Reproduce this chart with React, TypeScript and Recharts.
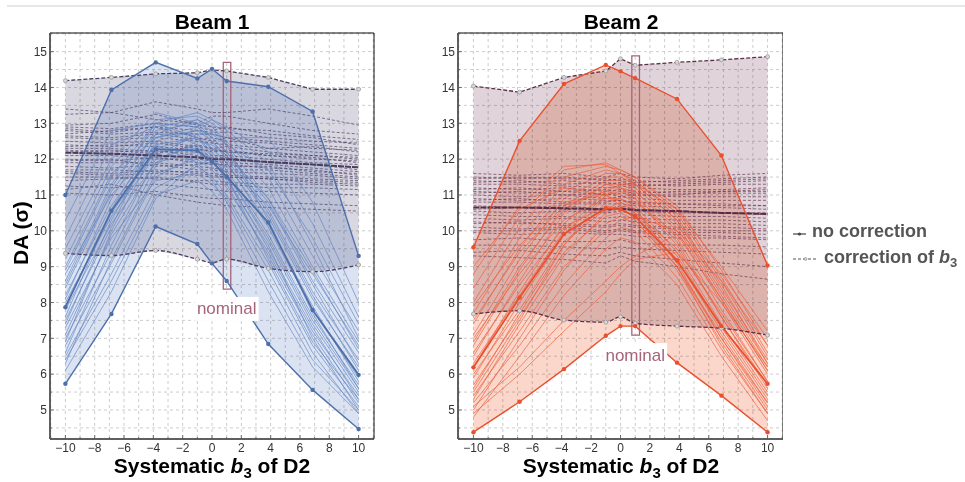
import React from 'react';
import {
  ComposedChart,
  Line,
  Area,
  XAxis,
  YAxis,
  CartesianGrid,
  ReferenceArea,
  ReferenceDot,
} from 'recharts';

// ---------- shared axes ----------
const XS = [-10, -6.86, -3.84, -1, 0, 1, 3.84, 6.86, 10];
const X_TICKS = [-11, -10, -9, -8, -7, -6, -5, -4, -3, -2, -1, 0, 1, 2, 3, 4, 5, 6, 7, 8, 9, 10, 11];
const X_LABELS = [-10, -8, -6, -4, -2, 0, 2, 4, 6, 8, 10];
const Y_TICKS = [4.5, 5, 5.5, 6, 6.5, 7, 7.5, 8, 8.5, 9, 9.5, 10, 10.5, 11, 11.5, 12, 12.5, 13, 13.5, 14, 14.5, 15, 15.5];
const Y_LABELS = [5, 6, 7, 8, 9, 10, 11, 12, 13, 14, 15];
const X_DOMAIN = [-11.05, 11.05];
const Y_DOMAIN = [4.19, 15.52];

// ---------- Beam 1 ----------
const B1_SOLID_UPPER = [11.0, 13.93, 14.7, 14.25, 14.52, 14.18, 14.02, 13.33, 9.3];
const B1_SOLID_LOWER = [5.73, 7.68, 10.12, 9.63, 9.09, 8.6, 6.84, 5.56, 4.47];
const B1_SOLID_MEDIAN = [7.87, 10.56, 12.28, 12.24, 11.93, 11.51, 10.23, 7.79, 5.98];
const B1_DASHED_UPPER = [14.19, 14.28, 14.38, 14.41, 14.49, 14.46, 14.28, 13.95, 13.95];
const B1_DASHED_LOWER = [9.37, 9.31, 9.45, 9.21, 9.11, 9.21, 8.95, 8.86, 9.05];
const B1_DASHED_MEDIAN = [12.18, 12.15, 12.1, 12.05, 12.0, 12.0, 11.92, 11.85, 11.77];

const B1_SOLID = [
  [6.3, 9.2, 11.6, 12.0, 11.7, 11.2, 9.4, 7.2, 5.4],
  [6.6, 9.6, 12.0, 12.4, 12.1, 11.6, 9.8, 7.5, 5.6],
  [6.9, 10.0, 12.3, 12.6, 12.3, 11.9, 10.1, 7.8, 5.9],
  [7.1, 9.9, 11.9, 12.2, 11.9, 11.5, 9.5, 7.3, 5.3],
  [7.4, 10.3, 12.5, 12.8, 12.5, 12.0, 10.4, 8.1, 6.2],
  [7.6, 10.6, 12.6, 12.9, 12.6, 12.2, 10.6, 8.3, 6.4],
  [7.9, 10.5, 12.2, 12.3, 12.0, 11.4, 9.6, 7.0, 5.0],
  [8.1, 10.9, 12.8, 13.0, 12.8, 12.4, 10.9, 8.6, 6.6],
  [8.4, 11.1, 12.7, 12.7, 12.3, 11.9, 10.2, 7.9, 5.8],
  [8.6, 11.3, 12.9, 13.1, 12.9, 12.5, 11.2, 9.0, 6.9],
  [8.9, 11.5, 13.0, 12.9, 12.5, 12.1, 10.5, 8.2, 6.1],
  [9.2, 11.8, 13.1, 13.2, 13.0, 12.7, 11.5, 9.3, 7.2],
  [9.5, 12.0, 13.3, 13.0, 12.6, 12.2, 10.8, 8.5, 6.3],
  [6.5, 8.8, 11.2, 11.8, 11.5, 11.0, 9.1, 6.8, 5.1],
  [6.8, 9.1, 11.5, 12.1, 11.8, 11.3, 9.3, 7.1, 5.2],
  [7.3, 9.8, 11.4, 11.6, 11.3, 10.9, 8.9, 6.6, 4.9],
  [7.8, 10.2, 11.9, 12.5, 12.4, 12.1, 10.9, 8.9, 6.7],
  [8.2, 10.7, 12.4, 12.6, 12.2, 11.7, 9.9, 7.6, 5.7],
  [9.8, 12.4, 12.9, 12.4, 12.0, 11.6, 9.7, 7.4, 5.5],
  [10.3, 12.8, 13.0, 12.6, 12.1, 11.5, 9.2, 6.9, 5.3],
  [6.1, 8.3, 10.9, 11.9, 11.9, 11.8, 10.7, 8.8, 6.8],
  [7.0, 9.4, 11.8, 12.9, 13.1, 12.9, 12.2, 10.2, 7.6],
  [8.0, 10.4, 12.1, 12.7, 12.7, 12.6, 12.6, 10.8, 8.0],
  [8.8, 11.0, 12.4, 11.9, 11.4, 10.8, 8.6, 6.4, 5.0],
  [7.5, 10.1, 12.7, 13.1, 12.9, 12.4, 10.3, 7.7, 5.6],
  [9.0, 11.6, 12.6, 12.8, 12.7, 12.4, 11.7, 9.8, 7.4],
  [6.4, 8.6, 11.0, 11.4, 11.1, 10.6, 8.3, 6.2, 4.9],
  [8.5, 11.2, 13.0, 13.3, 13.1, 12.8, 11.9, 9.6, 7.0],
];

const B1_DASHED = [
  [13.4, 13.3, 13.6, 13.4, 13.3, 13.3, 13.4, 13.2, 12.95],
  [13.25, 13.3, 13.1, 13.0, 13.2, 13.2, 13.0, 12.8, 12.7],
  [12.9, 12.85, 13.0, 12.9, 12.8, 12.9, 12.7, 12.6, 12.4],
  [12.8, 12.7, 12.75, 12.7, 12.7, 12.6, 12.5, 12.4, 12.3],
  [12.7, 12.8, 12.9, 12.6, 12.5, 12.6, 12.3, 12.35, 12.2],
  [12.6, 12.55, 12.6, 12.5, 12.45, 12.4, 12.3, 12.2, 12.1],
  [12.5, 12.45, 12.5, 12.35, 12.3, 12.35, 12.2, 12.1, 12.0],
  [12.4, 12.35, 12.45, 12.3, 12.2, 12.25, 12.1, 12.0, 11.95],
  [12.3, 12.3, 12.2, 12.2, 12.1, 12.1, 12.0, 11.9, 11.85],
  [12.25, 12.2, 12.25, 12.1, 12.05, 12.05, 11.9, 11.85, 11.7],
  [12.1, 12.1, 12.0, 12.0, 11.95, 11.9, 11.85, 11.75, 11.65],
  [12.0, 11.95, 12.05, 11.9, 11.85, 11.85, 11.75, 11.7, 11.55],
  [11.9, 11.9, 11.9, 11.8, 11.75, 11.7, 11.7, 11.6, 11.5],
  [11.8, 11.75, 11.85, 11.7, 11.7, 11.65, 11.6, 11.55, 11.45],
  [11.7, 11.7, 11.65, 11.65, 11.6, 11.55, 11.5, 11.45, 11.4],
  [11.6, 11.55, 11.6, 11.55, 11.5, 11.5, 11.45, 11.4, 11.35],
  [11.5, 11.5, 11.45, 11.4, 11.4, 11.35, 11.3, 11.3, 11.25],
  [11.25, 11.2, 11.3, 11.2, 11.15, 11.1, 11.1, 11.05, 11.0],
  [11.05, 11.0, 11.1, 10.95, 10.9, 10.9, 10.8, 10.75, 10.7],
  [12.95, 13.0, 13.25, 12.95, 12.9, 12.85, 12.8, 12.65, 12.55],
  [12.2, 12.25, 12.15, 12.4, 12.3, 12.2, 12.1, 12.05, 11.9],
  [11.95, 12.0, 11.8, 11.85, 11.9, 11.8, 11.8, 11.65, 11.6],
  [12.65, 12.6, 12.7, 12.55, 12.6, 12.5, 12.45, 12.3, 12.25],
  [11.4, 11.45, 11.5, 11.35, 11.3, 11.3, 11.2, 11.2, 11.15],
  [12.35, 12.4, 12.35, 12.25, 12.25, 12.2, 12.15, 12.1, 12.05],
  [11.15, 11.3, 11.0, 10.8, 10.75, 10.7, 10.65, 10.6, 10.55],
  [12.85, 12.75, 12.9, 12.8, 12.75, 12.75, 12.6, 12.5, 12.45],
  [11.65, 11.6, 11.7, 11.6, 11.55, 11.5, 11.45, 11.35, 11.3],
];

const B1_NOMINAL_BOX = { x1: 0.77, x2: 1.28, y1: 8.37, y2: 14.7 };
const B1_NOMINAL_LABEL = { x: 1.0, y: 7.82 };

// ---------- Beam 2 ----------
const B2_SOLID_UPPER = [9.54, 12.51, 14.1, 14.63, 14.45, 14.26, 13.68, 12.1, 9.03];
const B2_SOLID_LOWER = [4.38, 5.23, 6.14, 7.07, 7.34, 7.34, 6.32, 5.4, 4.38];
const B2_SOLID_MEDIAN = [6.19, 8.14, 9.91, 10.63, 10.6, 10.4, 9.17, 7.34, 5.73];
const B2_DASHED_UPPER = [14.04, 13.87, 14.28, 14.46, 14.8, 14.62, 14.7, 14.77, 14.86];
const B2_DASHED_LOWER = [7.68, 7.77, 7.51, 7.45, 7.6, 7.42, 7.34, 7.28, 7.09];
const B2_DASHED_MEDIAN = [10.65, 10.65, 10.63, 10.6, 10.62, 10.58, 10.55, 10.5, 10.47];

const B2_SOLID = [
  [5.0, 7.0, 8.9, 10.2, 10.4, 10.2, 8.9, 6.9, 5.0],
  [5.3, 7.4, 9.3, 10.5, 10.7, 10.5, 9.2, 7.2, 5.3],
  [5.6, 7.7, 9.6, 10.8, 10.9, 10.7, 9.4, 7.4, 5.5],
  [5.9, 8.0, 9.9, 11.0, 11.1, 10.9, 9.6, 7.6, 5.7],
  [6.2, 8.3, 10.2, 11.2, 11.2, 11.0, 9.8, 7.8, 5.8],
  [6.5, 8.6, 10.5, 11.3, 11.3, 11.1, 10.0, 8.0, 6.0],
  [6.8, 8.9, 10.7, 11.4, 11.4, 11.2, 10.2, 8.2, 6.2],
  [7.1, 9.2, 10.9, 11.5, 11.5, 11.3, 10.3, 8.3, 6.3],
  [7.4, 9.5, 11.1, 11.6, 11.6, 11.4, 10.4, 8.4, 6.4],
  [7.7, 9.8, 11.3, 11.7, 11.6, 11.4, 10.5, 8.6, 6.5],
  [8.0, 10.1, 11.5, 11.8, 11.7, 11.5, 10.6, 8.7, 6.6],
  [8.4, 10.4, 11.7, 11.9, 11.7, 11.5, 10.7, 8.9, 6.8],
  [8.8, 10.7, 11.8, 11.85, 11.6, 11.3, 10.3, 8.5, 6.3],
  [4.8, 6.5, 8.2, 9.5, 9.8, 9.7, 8.5, 6.5, 4.7],
  [5.2, 6.8, 8.5, 9.8, 10.1, 10.0, 8.7, 6.7, 4.9],
  [5.5, 7.5, 9.6, 11.0, 11.2, 11.1, 10.1, 8.1, 6.1],
  [6.0, 7.8, 9.7, 10.6, 10.8, 10.6, 9.1, 7.0, 5.1],
  [6.6, 8.5, 10.1, 10.7, 10.6, 10.4, 9.0, 7.0, 5.2],
  [7.0, 8.8, 10.3, 10.9, 10.9, 10.6, 9.3, 7.3, 5.4],
  [5.1, 6.2, 7.5, 8.6, 9.0, 9.3, 9.9, 8.6, 6.8],
  [4.9, 6.0, 7.2, 8.3, 8.8, 9.2, 9.4, 8.0, 6.2],
  [5.4, 7.2, 9.0, 10.0, 10.3, 10.4, 10.0, 8.8, 7.0],
  [6.3, 8.2, 10.0, 11.1, 11.3, 11.3, 10.6, 9.0, 7.2],
  [7.9, 9.6, 10.8, 11.0, 10.8, 10.5, 9.5, 7.7, 5.8],
  [9.0, 10.6, 11.2, 11.0, 10.7, 10.3, 9.0, 7.1, 5.2],
  [5.7, 7.6, 9.4, 10.4, 10.5, 10.3, 9.0, 6.8, 4.9],
  [6.9, 9.0, 10.6, 11.3, 11.2, 10.9, 9.7, 7.6, 5.6],
  [7.5, 9.4, 10.7, 11.1, 11.0, 10.8, 9.9, 8.1, 6.1],
];

const B2_DASHED = [
  [11.6, 11.55, 11.6, 11.5, 11.6, 11.5, 11.45, 11.55, 11.6],
  [11.5, 11.45, 11.5, 11.4, 11.45, 11.4, 11.35, 11.4, 11.45],
  [11.4, 11.35, 11.4, 11.3, 11.35, 11.3, 11.25, 11.3, 11.3],
  [11.3, 11.3, 11.25, 11.2, 11.25, 11.2, 11.15, 11.15, 11.2],
  [11.2, 11.15, 11.2, 11.1, 11.15, 11.1, 11.05, 11.05, 11.05],
  [11.1, 11.05, 11.1, 11.0, 11.05, 11.0, 10.95, 10.95, 10.95],
  [11.0, 10.95, 11.0, 10.9, 10.95, 10.9, 10.85, 10.85, 10.85],
  [10.9, 10.85, 10.9, 10.85, 10.85, 10.8, 10.75, 10.75, 10.7],
  [10.8, 10.8, 10.75, 10.75, 10.75, 10.7, 10.65, 10.65, 10.6],
  [10.55, 10.5, 10.55, 10.5, 10.55, 10.45, 10.4, 10.4, 10.35],
  [10.45, 10.4, 10.4, 10.35, 10.4, 10.35, 10.3, 10.3, 10.25],
  [10.35, 10.3, 10.35, 10.25, 10.3, 10.25, 10.2, 10.2, 10.15],
  [10.25, 10.2, 10.2, 10.15, 10.2, 10.15, 10.1, 10.1, 10.05],
  [10.1, 10.05, 10.1, 10.0, 10.05, 10.0, 9.95, 9.95, 9.9],
  [9.95, 9.9, 9.95, 9.9, 9.9, 9.85, 9.8, 9.8, 9.75],
  [9.6, 9.6, 9.55, 9.5, 9.55, 9.5, 9.45, 9.4, 9.35],
  [9.4, 9.45, 9.35, 9.3, 9.4, 9.3, 9.2, 9.1, 9.0],
  [9.3, 9.25, 9.2, 9.1, 9.3, 9.15, 9.0, 8.8, 8.65],
  [11.05, 11.1, 11.0, 11.05, 10.95, 11.0, 11.0, 11.1, 11.15],
  [11.35, 11.4, 11.3, 11.35, 11.3, 11.25, 11.3, 11.35, 11.4],
  [10.7, 10.65, 10.7, 10.6, 10.7, 10.6, 10.55, 10.5, 10.5],
  [10.6, 10.65, 10.6, 10.55, 10.6, 10.55, 10.5, 10.5, 10.45],
  [11.15, 11.2, 11.1, 11.15, 11.1, 11.05, 11.1, 11.1, 11.1],
  [10.0, 10.0, 10.05, 9.95, 10.0, 9.95, 9.9, 9.85, 9.8],
  [11.45, 11.5, 11.45, 11.45, 11.4, 11.35, 11.4, 11.45, 11.5],
  [10.2, 10.25, 10.15, 10.1, 10.15, 10.1, 10.05, 10.0, 10.0],
  [9.75, 9.8, 9.7, 9.7, 9.75, 9.65, 9.6, 9.6, 9.55],
  [10.85, 10.9, 10.8, 10.8, 10.85, 10.75, 10.75, 10.7, 10.7],
];

const B2_NOMINAL_BOX = { x1: 0.77, x2: 1.29, y1: 7.09, y2: 14.88 };
const B2_NOMINAL_LABEL = { x: 1.0, y: 6.53 };

const FONT = '"Liberation Sans", Arial, Helvetica, sans-serif';

type Beam = {
  solidUpper: number[];
  solidLower: number[];
  solidMedian: number[];
  dashedUpper: number[];
  dashedLower: number[];
  dashedMedian: number[];
  solid: number[][];
  dashed: number[][];
};

function buildRows(b: Beam) {
  return XS.map((x, i) => {
    const row: Record<string, any> = {
      x,
      sEnv: [b.solidLower[i], b.solidUpper[i]],
      dEnv: [b.dashedLower[i], b.dashedUpper[i]],
      sHi: b.solidUpper[i],
      sLo: b.solidLower[i],
      sMed: b.solidMedian[i],
      dHi: b.dashedUpper[i],
      dLo: b.dashedLower[i],
      dMed: b.dashedMedian[i],
    };
    b.solid.forEach((arr, k) => {
      row['s' + k] = arr[i];
    });
    b.dashed.forEach((arr, k) => {
      row['d' + k] = arr[i];
    });
    return row;
  });
}

const fmtX = (v: number) => (X_LABELS.includes(v) ? String(v).replace('-', '\u2212') : '');
const fmtY = (v: number) => (Y_LABELS.includes(v) ? String(v) : '');

const XTick = (props: any) => {
  const { x, y, payload } = props;
  const v = payload.value;
  const major = X_LABELS.includes(v);
  const axisY = y - 4;
  return (
    <g>
      <line x1={x} x2={x} y1={axisY} y2={axisY - (major ? 4 : 2)} stroke="#555" strokeWidth={0.8} />
      <text x={x} y={y} dy="0.71em" textAnchor="middle" fontSize={12} fill="#333" fontFamily={FONT}>
        {fmtX(v)}
      </text>
    </g>
  );
};

const YTick = (props: any) => {
  const { x, y, payload } = props;
  const v = payload.value;
  const major = Y_LABELS.includes(v);
  const axisX = x + 3;
  return (
    <g>
      <line x1={axisX} x2={axisX + (major ? 4 : 2)} y1={y} y2={y} stroke="#555" strokeWidth={0.8} />
      <text x={x} y={y} dy="0.355em" textAnchor="end" fontSize={12} fill="#333" fontFamily={FONT}>
        {fmtY(v)}
      </text>
    </g>
  );
};

type Theme = {
  solidFill: string;
  dashedFill: string;
  thin: string;
  thinDashed: string;
  env: string;
  envDashed: string;
  median: string;
  medianDashed: string;
  nominal: string;
};

const THEME1: Theme = {
  solidFill: '#dbe3f3',
  dashedFill: '#d9d8e1',
  thin: '#5f84c2',
  thinDashed: '#4e4066',
  env: '#4d70ab',
  envDashed: '#4a3d60',
  median: '#4d70ab',
  medianDashed: '#4a3c60',
  nominal: '#a5647a',
};

const THEME2: Theme = {
  solidFill: '#fbd6cb',
  dashedFill: '#e0d4da',
  thin: '#ec5a38',
  thinDashed: '#6c3654',
  env: '#e8502f',
  envDashed: '#5a2e46',
  median: '#e8502f',
  medianDashed: '#5a2c46',
  nominal: '#a5647a',
};

const NominalShape = (color: string) => (props: any) => {
  const { cx, cy } = props;
  return (
    <g>
      <rect x={cx - 32} y={cy - 12} width={64} height={24} fill="#ffffff" />
      <text
        x={cx}
        y={cy}
        textAnchor="middle"
        dominantBaseline="central"
        fontSize={17}
        fill={color}
        fontFamily={FONT}
      >
        nominal
      </text>
    </g>
  );
};

function BeamChart({
  beam,
  theme,
  box,
  label,
  width,
  marginRight,
}: {
  beam: Beam;
  theme: Theme;
  box: { x1: number; x2: number; y1: number; y2: number };
  label: { x: number; y: number };
  width: number;
  marginRight: number;
}) {
  const rows = buildRows(beam);
  return (
    <ComposedChart
      width={width}
      height={482}
      data={rows}
      margin={{ top: 33, right: marginRight, bottom: 0, left: 0 }}
    >
      <CartesianGrid stroke="#cdcdcd" strokeDasharray="3 3" />
      <XAxis
        type="number"
        dataKey="x"
        domain={X_DOMAIN}
        ticks={X_TICKS}
        interval={0}
        tickFormatter={fmtX}
        height={43}
        tickLine={false}
        tickSize={0}
        tickMargin={4}
        axisLine={{ stroke: '#555', strokeWidth: 1.5 }}
        tick={XTick}
      />
      <YAxis
        type="number"
        domain={Y_DOMAIN}
        ticks={Y_TICKS}
        interval={0}
        tickFormatter={fmtY}
        width={50}
        tickLine={false}
        tickSize={0}
        tickMargin={3}
        axisLine={{ stroke: '#555', strokeWidth: 1.5 }}
        tick={YTick}
      />
      <Area
        className="mb"
        type="linear"
        dataKey="dEnv"
        fill={theme.dashedFill}
        fillOpacity={1}
        stroke="none"
        style={{ mixBlendMode: 'multiply' }}
        isAnimationActive={false}
        dot={false}
        activeDot={false}
      />
      <Area
        className="mb"
        type="linear"
        dataKey="sEnv"
        fill={theme.solidFill}
        fillOpacity={1}
        stroke="none"
        style={{ mixBlendMode: 'multiply' }}
        isAnimationActive={false}
        dot={false}
        activeDot={false}
      />
      {beam.dashed.map((_, k) => (
        <Line
          key={'d' + k}
          type="linear"
          dataKey={'d' + k}
          stroke={theme.thinDashed}
          strokeOpacity={0.7}
          strokeWidth={1}
          strokeDasharray="3 2"
          dot={false}
          activeDot={false}
          isAnimationActive={false}
        />
      ))}
      {beam.solid.map((_, k) => (
        <Line
          key={'s' + k}
          type="linear"
          dataKey={'s' + k}
          stroke={theme.thin}
          strokeOpacity={0.65}
          strokeWidth={1}
          dot={false}
          activeDot={false}
          isAnimationActive={false}
        />
      ))}
      <Line
        type="linear"
        dataKey="dMed"
        stroke={theme.medianDashed}
        strokeWidth={2}
        strokeDasharray="6 1"
        dot={false}
        activeDot={false}
        isAnimationActive={false}
      />
      <Line
        type="linear"
        dataKey="dHi"
        stroke={theme.envDashed}
        strokeWidth={1.3}
        strokeDasharray="4 2"
        dot={{ r: 2, fill: '#d8d8d8', stroke: '#999', strokeWidth: 0.8, strokeDasharray: '' }}
        activeDot={false}
        isAnimationActive={false}
      />
      <Line
        type="monotone"
        dataKey="dLo"
        stroke={theme.envDashed}
        strokeWidth={1.3}
        strokeDasharray="4 2"
        dot={{ r: 2, fill: '#d8d8d8', stroke: '#999', strokeWidth: 0.8, strokeDasharray: '' }}
        activeDot={false}
        isAnimationActive={false}
      />
      <Line
        type="linear"
        dataKey="sMed"
        stroke={theme.median}
        strokeWidth={1.8}
        dot={{ r: 2.2, fill: theme.median, stroke: theme.median, strokeWidth: 0 }}
        activeDot={false}
        isAnimationActive={false}
      />
      <Line
        type="linear"
        dataKey="sHi"
        stroke={theme.env}
        strokeWidth={1.4}
        dot={{ r: 2.2, fill: theme.env, stroke: theme.env, strokeWidth: 0 }}
        activeDot={false}
        isAnimationActive={false}
      />
      <Line
        type="linear"
        dataKey="sLo"
        stroke={theme.env}
        strokeWidth={1.4}
        dot={{ r: 2.2, fill: theme.env, stroke: theme.env, strokeWidth: 0 }}
        activeDot={false}
        isAnimationActive={false}
      />
      <ReferenceArea
        x1={box.x1}
        x2={box.x2}
        y1={box.y1}
        y2={box.y2}
        fill="none"
        fillOpacity={0}
        stroke={theme.nominal}
        strokeWidth={1.3}
      />
      <ReferenceArea
        x1={X_DOMAIN[0]}
        x2={X_DOMAIN[1]}
        y1={Y_DOMAIN[0]}
        y2={Y_DOMAIN[1]}
        fill="none"
        fillOpacity={0}
        stroke="#111"
        strokeWidth={1}
      />
      <ReferenceDot x={label.x} y={label.y} r={1} shape={NominalShape(theme.nominal)} />
    </ComposedChart>
  );
}

const BEAM1: Beam = {
  solidUpper: B1_SOLID_UPPER,
  solidLower: B1_SOLID_LOWER,
  solidMedian: B1_SOLID_MEDIAN,
  dashedUpper: B1_DASHED_UPPER,
  dashedLower: B1_DASHED_LOWER,
  dashedMedian: B1_DASHED_MEDIAN,
  solid: B1_SOLID,
  dashed: B1_DASHED,
};

const BEAM2: Beam = {
  solidUpper: B2_SOLID_UPPER,
  solidLower: B2_SOLID_LOWER,
  solidMedian: B2_SOLID_MEDIAN,
  dashedUpper: B2_DASHED_UPPER,
  dashedLower: B2_DASHED_LOWER,
  dashedMedian: B2_DASHED_MEDIAN,
  solid: B2_SOLID,
  dashed: B2_DASHED,
};

function XTitle({ cx }: { cx: number }) {
  return (
    <text x={cx} y={473} textAnchor="middle" fontSize={21} fontWeight="bold" fill="#000" fontFamily={FONT}>
      Systematic{' '}
      <tspan fontStyle="italic">b</tspan>
      <tspan fontSize={15} dy={5}>3</tspan>
      <tspan dy={-5}> of D2</tspan>
    </text>
  );
}

export default function App() {
  return (
    <div
      style={{
        position: 'absolute',
        left: 0,
        top: 0,
        width: 965,
        height: 482,
        background: '#fff',
        overflow: 'hidden',
        fontFamily: FONT,
      }}
    >
      <style>{`.mb .recharts-area-area, .mb path { mix-blend-mode: multiply; }`}</style>
      <div style={{ position: 'absolute', left: 7, top: 5, width: 958, height: 2, background: '#e6e6e6' }} />
      <div style={{ position: 'absolute', left: 0, top: 0 }}>
        <BeamChart beam={BEAM1} theme={THEME1} box={B1_NOMINAL_BOX} label={B1_NOMINAL_LABEL} width={400} marginRight={26} />
      </div>
      <div style={{ position: 'absolute', left: 408, top: 0 }}>
        <BeamChart beam={BEAM2} theme={THEME2} box={B2_NOMINAL_BOX} label={B2_NOMINAL_LABEL} width={375} marginRight={0} />
      </div>
      <svg
        width={965}
        height={482}
        style={{ position: 'absolute', left: 0, top: 0, pointerEvents: 'none' }}
      >
        <text x={212} y={29} textAnchor="middle" fontSize={21} fontWeight="bold" fill="#000" fontFamily={FONT}>
          Beam 1
        </text>
        <text x={621} y={29} textAnchor="middle" fontSize={21} fontWeight="bold" fill="#000" fontFamily={FONT}>
          Beam 2
        </text>
        <XTitle cx={212} />
        <XTitle cx={621} />
        <text
          x={0}
          y={0}
          transform="translate(28 233) rotate(-90)"
          textAnchor="middle"
          fontSize={21}
          fontWeight="bold"
          fill="#000"
          fontFamily={FONT}
        >
          DA (σ)
        </text>
        {/* legend */}
        <line x1={793} y1={234} x2={806} y2={234} stroke="#444" strokeWidth={1.2} />
        <circle cx={799.5} cy={234} r={1.6} fill="#444" />
        <text x={812} y={237} fontSize={18} fontWeight="bold" fill="#555" fontFamily={FONT}>
          no correction
        </text>
        <line x1={793} y1={259} x2={818} y2={259} stroke="#555" strokeWidth={1.1} strokeDasharray="3 2" />
        <circle cx={805.5} cy={259} r={1.4} fill="#ddd" stroke="#888" strokeWidth={0.7} />
        <text x={824} y={263} fontSize={18} fontWeight="bold" fill="#555" fontFamily={FONT}>
          correction of <tspan fontStyle="italic">b</tspan>
          <tspan fontSize={13} dy={4}>3</tspan>
        </text>
      </svg>
    </div>
  );
}
